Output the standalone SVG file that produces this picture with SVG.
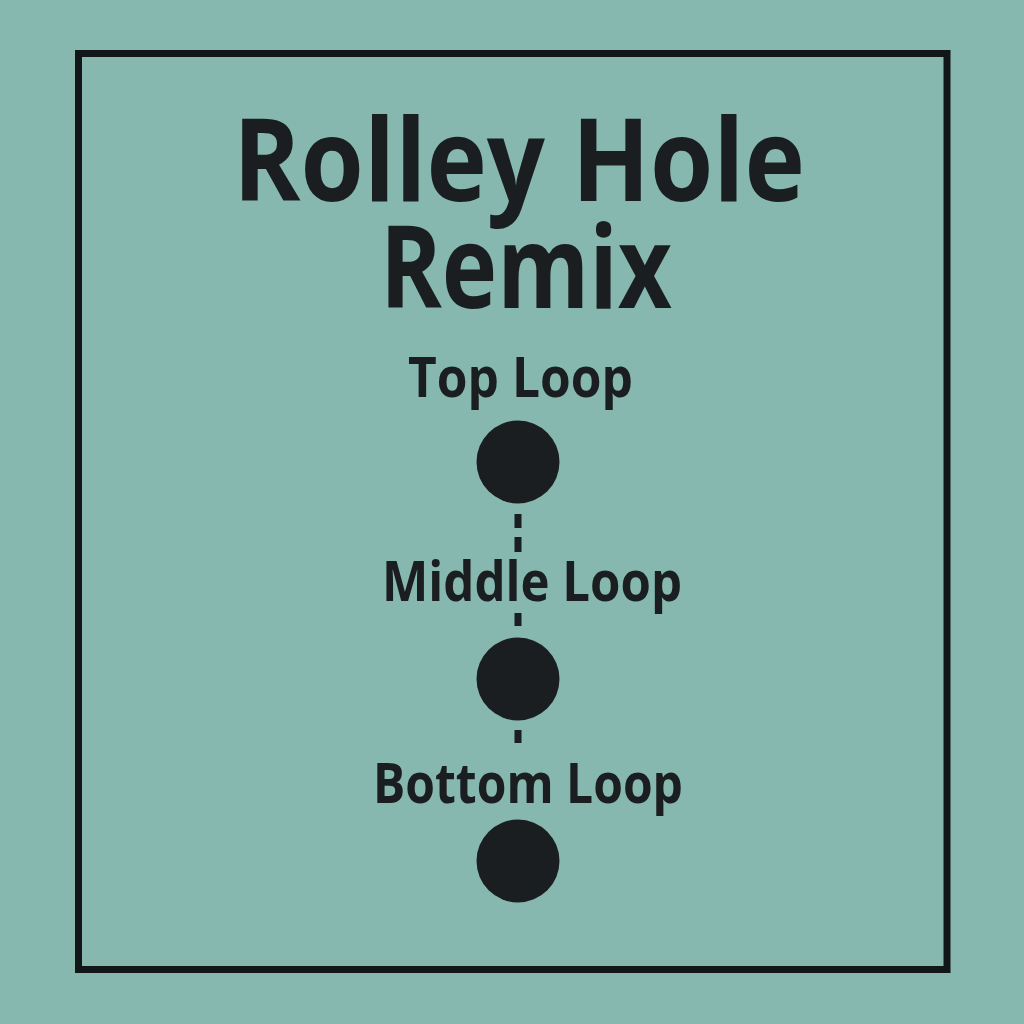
<svg xmlns="http://www.w3.org/2000/svg" width="1024" height="1024" viewBox="0 0 1024 1024">
<style>
.t{font-family:"Open Sans","Noto Sans","Liberation Sans",sans-serif;font-weight:700;fill:#1b1e20;text-anchor:middle}
.title{font-size:114px}
.lbl{font-size:55px}
.dot{fill:#1b1e20}
.dash{stroke:#1b1e20;stroke-width:7}
</style>
<rect width="1024" height="1024" fill="#87b8b0"/>
<rect x="78.5" y="53.5" width="868.5" height="916" fill="none" stroke="#111719" stroke-width="7"/>
<g id="title">
<text class="t title" x="519" y="201" textLength="572" lengthAdjust="spacingAndGlyphs">Rolley Hole</text>
<text class="t title" x="526" y="308" textLength="292" lengthAdjust="spacingAndGlyphs">Remix</text>
</g>
<g id="connectors">
<line class="dash" x1="518" y1="514" x2="518" y2="528"/>
<line class="dash" x1="518" y1="537" x2="518" y2="552"/>
<line class="dash" x1="518" y1="613" x2="518" y2="626"/>
<line class="dash" x1="518" y1="730" x2="518" y2="743"/>
</g>
<g id="top-loop">
<text class="t lbl" x="520.5" y="397" textLength="225" lengthAdjust="spacingAndGlyphs">Top Loop</text>
<circle class="dot" cx="518" cy="462" r="41.5"/>
</g>
<g id="middle-loop">
<text class="t lbl" x="532" y="601" textLength="300" lengthAdjust="spacingAndGlyphs">Middle Loop</text>
<circle class="dot" cx="518" cy="679" r="41.5"/>
</g>
<g id="bottom-loop">
<text class="t lbl" x="528" y="803" textLength="310" lengthAdjust="spacingAndGlyphs">Bottom Loop</text>
<circle class="dot" cx="518" cy="861" r="41.5"/>
</g>
</svg>
